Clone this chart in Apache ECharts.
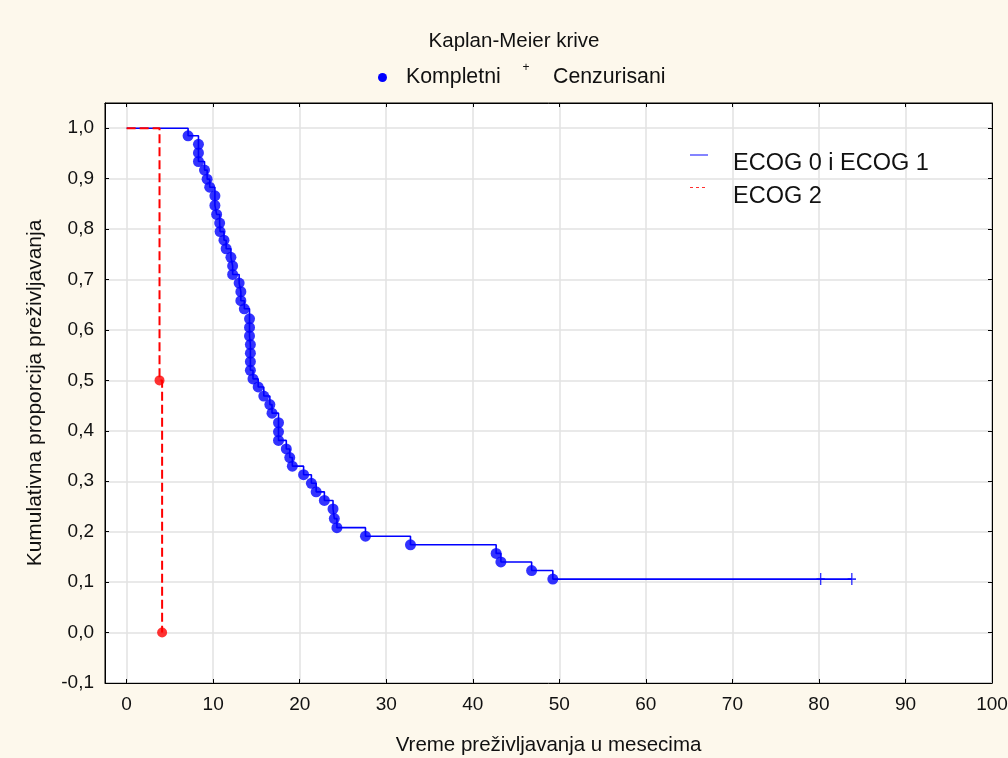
<!DOCTYPE html>
<html><head><meta charset="utf-8">
<script src="https://cdn.jsdelivr.net/npm/echarts@6/dist/echarts.min.js"></script>
<style>html,body{margin:0;padding:0;background:#fdf8ec}#c{width:1008px;height:758px}</style>
</head><body><div id="c"></div>
<script>
// ECOG 0 i ECOG 1 : event (complete) times and survival after each event
const blueTimes = [7.1, 8.3, 8.3, 8.3, 9.0, 9.3, 9.6, 10.2, 10.2, 10.4, 10.75, 10.8, 11.25, 11.5, 12.05, 12.25, 12.25,
  13.0, 13.2, 13.2, 13.6, 14.2, 14.2, 14.2, 14.3, 14.3, 14.3, 14.3, 14.6, 15.2, 15.85, 16.55, 16.8, 17.55, 17.55, 17.55,
  18.45, 18.85, 19.15, 20.45, 21.35, 21.9, 22.85, 23.85, 24.0, 24.3, 27.6, 32.8, 42.7, 43.25, 46.8, 49.25];
const blueSurv = [0.985, 0.968, 0.951, 0.934, 0.917, 0.899, 0.883, 0.866, 0.847, 0.829, 0.812, 0.795, 0.778, 0.761, 0.744, 0.727, 0.710,
  0.693, 0.676, 0.658, 0.642, 0.622, 0.605, 0.588, 0.571, 0.554, 0.537, 0.520, 0.503, 0.487, 0.469, 0.452, 0.435, 0.416, 0.398, 0.381,
  0.364, 0.347, 0.330, 0.313, 0.296, 0.279, 0.262, 0.245, 0.226, 0.208, 0.191, 0.174, 0.157, 0.140, 0.123, 0.106];
// censored observations
const censorTimes = [80.2, 83.8];
const censorSurv = [0.106, 0.106];
// ECOG 2
const redTimes = [3.8, 4.1];
const redSurv = [0.5, 0.0];
// tick values
const xTicks = [0, 10, 20, 30, 40, 50, 60, 70, 80, 90, 100];
const yTicks = [-0.1, 0.0, 0.1, 0.2, 0.3, 0.4, 0.5, 0.6, 0.7, 0.8, 0.9, 1.0];

const FONT = '"Liberation Sans", Arial, sans-serif';
const zip = (a, b) => a.map((v, i) => [v, b[i]]);
const blueLine = [[0, 1]].concat(zip(blueTimes, blueSurv), [[censorTimes[censorTimes.length - 1], censorSurv[censorSurv.length - 1]]]);
const redLine = [[0, 1]].concat(zip(redTimes, redSurv));

const chart = echarts.init(document.getElementById('c'), null, {renderer: 'canvas'});
const commonX = {type: 'value', min: -2.5, max: 100};
const commonY = {type: 'value', min: -0.1, max: 1.05};
const fmtY = v => (Math.round(v * 10) / 10).toFixed(1).replace('.', ',');
chart.setOption({
  backgroundColor: '#fdf8ec',
  animation: false,
  textStyle: {fontFamily: FONT},
  grid: {left: 105, right: 16, top: 103, bottom: 75, show: true, backgroundColor: '#ffffff',
    borderColor: '#000', borderWidth: 1, containLabel: false, outerBoundsMode: 'none'},
  xAxis: [
    Object.assign({}, commonX, {
      position: 'bottom',
      name: 'Vreme preživljavanja u mesecima', nameLocation: 'middle', nameGap: 52,
      nameTextStyle: {fontSize: 20.5, color: '#111', fontFamily: FONT},
      axisLine: {show: true, onZero: false, lineStyle: {color: '#000', width: 1}},
      axisTick: {show: true, inside: true, length: 4, customValues: xTicks, lineStyle: {color: '#000'}},
      axisLabel: {customValues: xTicks, fontSize: 19, color: '#111', margin: 12, fontFamily: FONT},
      splitLine: {show: true, lineStyle: {color: '#e2e2e2', width: 1.5}}
    }),
    Object.assign({}, commonX, {
      position: 'top',
      axisLine: {show: true, onZero: false, lineStyle: {color: '#000', width: 1}},
      axisTick: {show: true, inside: true, length: 4, customValues: xTicks, lineStyle: {color: '#000'}},
      axisLabel: {show: false},
      splitLine: {show: false}
    })
  ],
  yAxis: [
    Object.assign({}, commonY, {
      position: 'left',
      name: 'Kumulativna proporcija preživljavanja', nameLocation: 'middle', nameGap: 59,
      nameTextStyle: {fontSize: 21, color: '#111', fontFamily: FONT},
      axisLine: {show: true, onZero: false, lineStyle: {color: '#000', width: 1}},
      axisTick: {show: true, inside: true, length: 4, customValues: yTicks, lineStyle: {color: '#000'}},
      axisLabel: {customValues: yTicks, fontSize: 19, color: '#111', margin: 11, formatter: fmtY, fontFamily: FONT},
      splitLine: {show: true, lineStyle: {color: '#e2e2e2', width: 1.5}}
    }),
    Object.assign({}, commonY, {
      position: 'right',
      axisLine: {show: true, onZero: false, lineStyle: {color: '#000', width: 1}},
      axisTick: {show: true, inside: true, length: 4, customValues: yTicks, lineStyle: {color: '#000'}},
      axisLabel: {show: false},
      splitLine: {show: false}
    })
  ],
  series: [
    {name: 'ECOG 0 i ECOG 1', type: 'line', step: 'end', data: blueLine, showSymbol: false, symbol: 'none',
      lineStyle: {color: '#0000ff', width: 1.6}, z: 2},
    {name: 'Kompletni', type: 'scatter', data: zip(blueTimes, blueSurv), symbol: 'circle', symbolSize: 11,
      itemStyle: {color: '#0000ff'}, z: 3},
    {name: 'Cenzurisani', type: 'scatter', data: zip(censorTimes, censorSurv),
      symbol: 'path://M0,6 L10,6 M5,0 L5,12', symbolSize: [10, 12], symbolKeepAspect: true,
      itemStyle: {color: 'rgba(0,0,0,0)', borderColor: '#0000ff', borderWidth: 1.5}, z: 3},
    {name: 'ECOG 2', type: 'line', step: 'end', data: redLine, showSymbol: false, symbol: 'none',
      lineStyle: {color: '#ff0000', width: 2, type: [9, 4]}, z: 4},
    {name: 'ECOG 2 kompletni', type: 'scatter', data: zip(redTimes, redSurv), symbol: 'circle', symbolSize: 10,
      itemStyle: {color: '#ff0000'}, z: 5}
  ],
  graphic: {
    elements: [
      {type: 'text', z: 100, x: 514, y: 41, style: {text: 'Kaplan-Meier krive', font: '20.5px ' + FONT, fill: '#111', align: 'center', verticalAlign: 'middle'}},
      {type: 'circle', z: 100, shape: {cx: 382.5, cy: 77.5, r: 4.5}, style: {fill: '#0000ff'}},
      {type: 'text', z: 100, x: 406, y: 77, style: {text: 'Kompletni', font: '21.3px ' + FONT, fill: '#111', align: 'left', verticalAlign: 'middle'}},
      {type: 'text', z: 100, x: 526, y: 68, style: {text: '+', font: '12px ' + FONT, fill: '#111', align: 'center', verticalAlign: 'middle'}},
      {type: 'text', z: 100, x: 553, y: 77, style: {text: 'Cenzurisani', font: '21.3px ' + FONT, fill: '#111', align: 'left', verticalAlign: 'middle'}},
      {type: 'line', z: 100, shape: {x1: 690, y1: 155, x2: 708, y2: 155}, style: {stroke: '#5b5bff', lineWidth: 1.5}},
      {type: 'text', z: 100, x: 733, y: 164, style: {text: 'ECOG 0 i ECOG 1', font: '23.5px ' + FONT, fill: '#111', align: 'left', verticalAlign: 'middle'}},
      {type: 'line', z: 100, shape: {x1: 690, y1: 187.5, x2: 708, y2: 187.5}, style: {stroke: '#ff3030', lineWidth: 1, lineDash: [3, 3]}},
      {type: 'text', z: 100, x: 733, y: 197, style: {text: 'ECOG 2', font: '23.5px ' + FONT, fill: '#111', align: 'left', verticalAlign: 'middle'}}
    ]
  }
});
</script></body></html>
